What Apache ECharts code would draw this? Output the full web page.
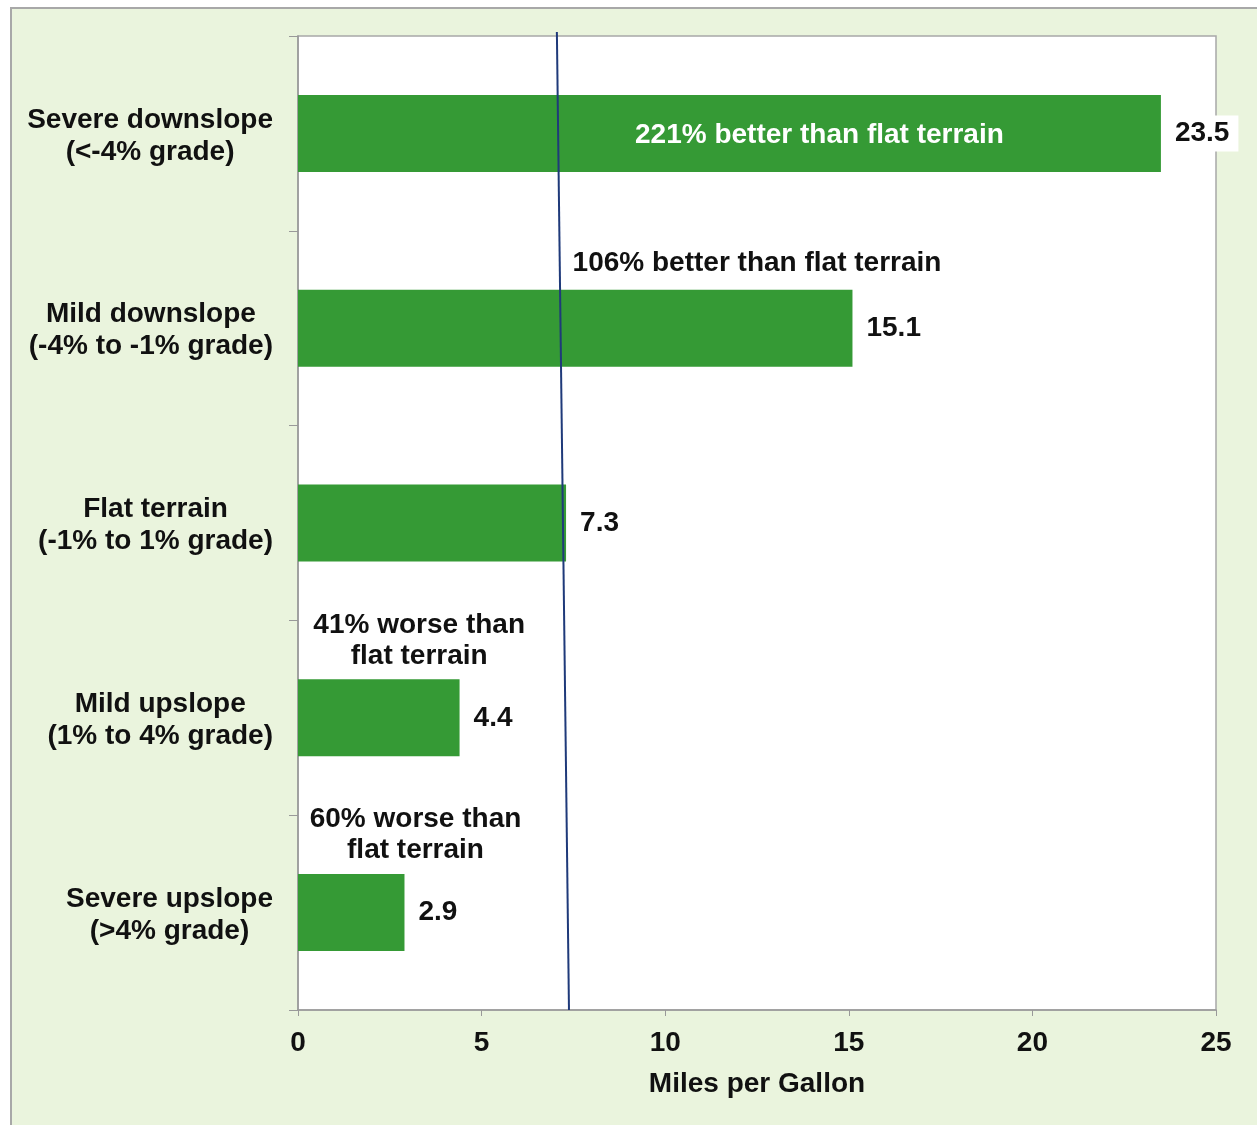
<!DOCTYPE html>
<html>
<head>
    <meta charset='utf-8'>
    <script src="https://cdn.jsdelivr.net/npm/echarts@6/dist/echarts.min.js"></script>
</head>
<body>
<style>
    html, body, #main {
        width: 1257px;
        height: 1125px;
        margin: 0;
        padding: 0;
        background: #fff;
    }
</style>
<div id="main"></div>
<script>
    var categories = [
        'Severe downslope\n(<-4% grade)',
        'Mild downslope\n(-4% to -1% grade)',
        'Flat terrain\n(-1% to 1% grade)',
        'Mild upslope\n(1% to 4% grade)',
        'Severe upslope\n(>4% grade)'
    ];
    var mpg = [23.5, 15.1, 7.3, 4.4, 2.9];

    // notes next to the bars, and where along the x axis they sit
    var noteText = [
        '221% better than flat terrain',
        '106% better than flat terrain',
        '',
        '41% worse than\nflat terrain',
        '60% worse than\nflat terrain'
    ];
    var noteX = [14.2, 12.5, null, 3.3, 3.2];

    // the reference line (slightly tilted in the original), x at top and bottom
    var refLineTop = 7.05;
    var refLineBottom = 7.38;

    var xTicks = [0, 5, 10, 15, 20, 25];

    var font = 'Liberation Sans, Arial, sans-serif';
    var fs = 28;
    var chart = echarts.init(document.getElementById('main'));

    var noteStyle = [
        {color: '#fff', offset: [0, 2]},
        {color: '#111', offset: [0, -65]},
        null,
        {color: '#111', offset: [0, -77]},
        {color: '#111', offset: [0, -78]}
    ];
    var noteData = [];
    for (var i = 0; i < noteText.length; i++) {
        if (!noteText[i]) continue;
        noteData.push({
            value: [noteX[i], i],
            label: {
                formatter: noteText[i],
                color: noteStyle[i].color,
                offset: noteStyle[i].offset
            }
        });
    }

    chart.setOption({
        animation: false,
        backgroundColor: '#fff',
        textStyle: {fontFamily: font},
        graphic: [{
            type: 'rect',
            shape: {x: 11, y: 8, width: 1270, height: 1140},
            style: {fill: '#eaf4dd', stroke: '#a8a8a8', lineWidth: 2},
            z: -10
        }],
        grid: {
            left: 298, top: 36, right: 41, bottom: 115,
            show: true,
            backgroundColor: '#fff',
            borderColor: '#a8a8a8',
            borderWidth: 1.5
        },
        xAxis: {
            type: 'value',
            min: 0, max: 25, interval: 5,
            splitLine: {show: false},
            axisLine: {show: true, lineStyle: {color: '#999', width: 1.5}},
            axisTick: {show: true, length: 6, lineStyle: {color: '#999'}},
            axisLabel: {
                margin: 19,
                fontSize: fs, fontWeight: 'bold', color: '#111',
                formatter: function (v) { return xTicks.indexOf(v) >= 0 ? String(v) : ''; }
            },
            name: 'Miles per Gallon',
            nameLocation: 'middle',
            nameGap: 60,
            nameTextStyle: {fontSize: fs, fontWeight: 'bold', color: '#111'}
        },
        yAxis: [{
            type: 'category',
            data: categories,
            inverse: true,
            axisLine: {show: true, lineStyle: {color: '#999', width: 1.5}},
            axisTick: {show: true, length: 9, lineStyle: {color: '#999'}},
            axisLabel: {
                margin: 25,
                padding: [5, 0, 0, 0],
                formatter: function (v) {
                    return v.split('\n').map(function (s) { return '{a|' + s + '}'; }).join('\n');
                },
                rich: {
                    a: {
                        fontSize: fs, fontWeight: 'bold', color: '#111',
                        lineHeight: 32, align: 'center', fontFamily: font
                    }
                }
            }
        }, {
            type: 'value',
            min: 0, max: 1,
            show: false
        }],
        series: [{
            type: 'bar',
            data: mpg,
            barWidth: 77,
            itemStyle: {color: '#359a35'},
            label: {
                show: true,
                position: 'right',
                distance: 5,
                padding: [4, 9],
                backgroundColor: '#fff',
                fontSize: fs, fontWeight: 'bold', color: '#111'
            }
        }, {
            type: 'scatter',
            data: noteData,
            symbolSize: 0,
            itemStyle: {opacity: 1},
            label: {
                show: true,
                position: 'inside',
                fontSize: fs, fontWeight: 'bold',
                lineHeight: 31,
                align: 'center',
                opacity: 1
            },
            z: 5
        }, {
            type: 'line',
            yAxisIndex: 1,
            clip: false,
            symbol: 'none',
            data: [[refLineTop, 1.004], [refLineBottom, 0]],
            lineStyle: {color: '#1f3a7a', width: 2},
            z: 4
        }]
    });
</script>
</body>
</html>
